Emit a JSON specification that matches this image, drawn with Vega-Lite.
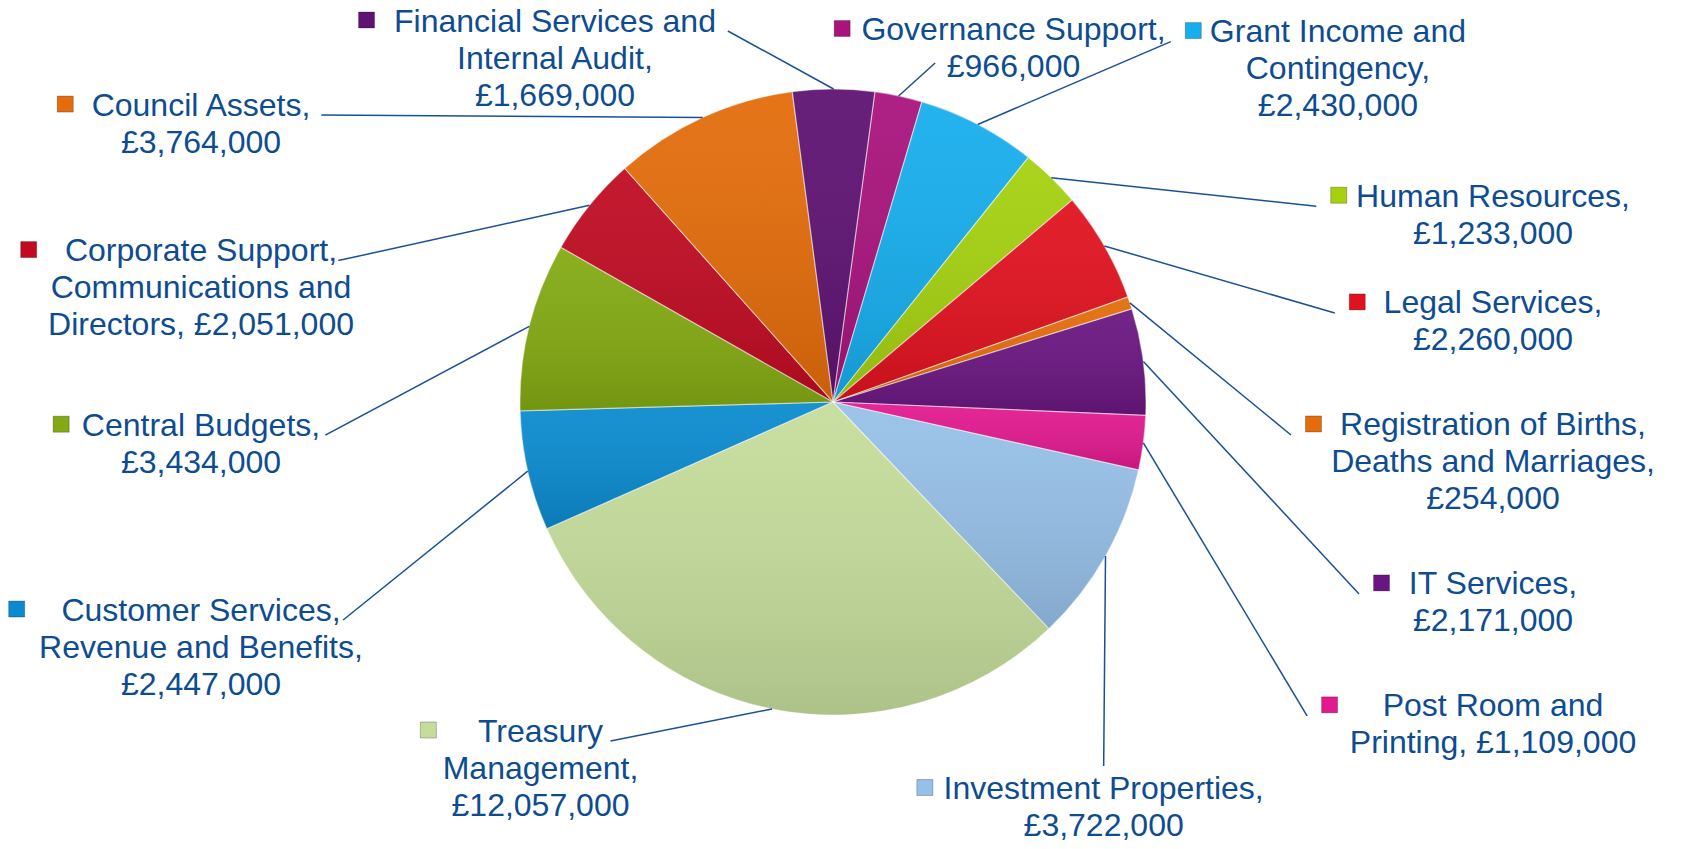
{
  "$schema": "https://vega.github.io/schema/vega-lite/v6.json",
  "autosize": "none",
  "width": 1666,
  "height": 804,
  "padding": {"left": 0, "top": 0, "right": 18, "bottom": 45},
  "background": "#ffffff",
  "config": {"view": {"stroke": null}},
  "data": {"values": [
    {"category": "Governance Support", "value": 966000, "label": "Governance Support,\n£966,000"},
    {"category": "Grant Income and Contingency", "value": 2430000, "label": "Grant Income and\nContingency,\n£2,430,000"},
    {"category": "Human Resources", "value": 1233000, "label": "Human Resources,\n£1,233,000"},
    {"category": "Legal Services", "value": 2260000, "label": "Legal Services,\n£2,260,000"},
    {"category": "Registration of Births, Deaths and Marriages", "value": 254000, "label": "Registration of Births,\nDeaths and Marriages,\n£254,000"},
    {"category": "IT Services", "value": 2171000, "label": "IT Services,\n£2,171,000"},
    {"category": "Post Room and Printing", "value": 1109000, "label": "Post Room and\nPrinting, £1,109,000"},
    {"category": "Investment Properties", "value": 3722000, "label": "Investment Properties,\n£3,722,000"},
    {"category": "Treasury Management", "value": 12057000, "label": "Treasury\nManagement,\n£12,057,000"},
    {"category": "Customer Services, Revenue and Benefits", "value": 2447000, "label": "Customer Services,\nRevenue and Benefits,\n£2,447,000"},
    {"category": "Central Budgets", "value": 3434000, "label": "Central Budgets,\n£3,434,000"},
    {"category": "Corporate Support, Communications and Directors", "value": 2051000, "label": "Corporate Support,\nCommunications and\nDirectors, £2,051,000"},
    {"category": "Council Assets", "value": 3764000, "label": "Council Assets,\n£3,764,000"},
    {"category": "Financial Services and Internal Audit", "value": 1669000, "label": "Financial Services and\nInternal Audit,\n£1,669,000"}
  ]},
  "transform": [
    {"stack": "value", "groupby": [], "as": ["s0", "s1"]}
  ],
  "layer": [
    {
      "mark": {"type": "arc", "outerRadius": 313, "stroke": "#ffffff", "strokeOpacity": 0.2, "strokeWidth": 1},
      "encoding": {
        "theta": {"field": "s0", "type": "quantitative", "scale": {"domain": [0, 39567000], "range": [0.1344, 6.4176], "zero": true, "nice": false}},
        "theta2": {"field": "s1"},
        "color": {
          "field": "category", "type": "nominal", "legend": null,
          "scale": {
            "domain": ["Governance Support", "Grant Income and Contingency", "Human Resources", "Legal Services", "Registration of Births, Deaths and Marriages", "IT Services", "Post Room and Printing", "Investment Properties", "Treasury Management", "Customer Services, Revenue and Benefits", "Central Budgets", "Corporate Support, Communications and Directors", "Council Assets", "Financial Services and Internal Audit"],
            "range": ["#A8137C", "#16AEEE", "#A5D10F", "#E1121F", "#E46C0A", "#6A1680", "#E3198F", "#96C0E8", "#C5DD9B", "#0A8BCF", "#83AA12", "#C00B22", "#E46C0A", "#5E1272"]
          }
        }
      }
    },
    {
      "mark": {"type": "arc", "outerRadius": 313, "stroke": "#ffffff", "strokeOpacity": 0.3, "strokeWidth": 1.2,
        "fill": {"gradient": "linear", "x1": 0, "y1": 0, "x2": 0, "y2": 1, "stops": [{"offset": 0, "color": "rgba(255,255,255,0.06)"}, {"offset": 1, "color": "rgba(0,0,0,0.12)"}]}},
      "encoding": {
        "theta": {"field": "s0", "type": "quantitative"},
        "theta2": {"field": "s1"}
      }
    },
    {
      "mark": {"type": "rule", "color": "#1A5096", "strokeWidth": 1.5},
      "encoding": {
        "x": {"value": {"expr": "width/2+313*sin((scale('theta',datum.s0)+scale('theta',datum.s1))/2)"}},
        "y": {"value": {"expr": "height/2-313*cos((scale('theta',datum.s0)+scale('theta',datum.s1))/2)"}},
        "x2": {"value": {"expr": "width/2+(((scale('theta',datum.s0)+scale('theta',datum.s1))*28.6479)<180?min(660,21*((scale('theta',datum.s0)+scale('theta',datum.s1))*28.6479)-73.5,2660-20*((scale('theta',datum.s0)+scale('theta',datum.s1))*28.6479)):-min(632,26*((scale('theta',datum.s0)+scale('theta',datum.s1))*28.6479)-4680,6760-18*((scale('theta',datum.s0)+scale('theta',datum.s1))*28.6479)))+(((scale('theta',datum.s0)+scale('theta',datum.s1))*28.6479)<180?(((scale('theta',datum.s0)+scale('theta',datum.s1))*28.6479)>105?0:(((scale('theta',datum.s0)+scale('theta',datum.s1))*28.6479)<20?-(32*(0.556*length((split(datum.label,'\\n')[1]||''))-0.3*length(replace((split(datum.label,'\\n')[1]||''),regexp('[^ilftjr ,.I]','g'),''))+0.15*length(replace((split(datum.label,'\\n')[1]||''),regexp('[^A-Z]','g'),''))))/2-12:-max((32*(0.556*length((split(datum.label,'\\n')[0]||''))-0.3*length(replace((split(datum.label,'\\n')[0]||''),regexp('[^ilftjr ,.I]','g'),''))+0.15*length(replace((split(datum.label,'\\n')[0]||''),regexp('[^A-Z]','g'),'')))),(32*(0.556*length((split(datum.label,'\\n')[1]||''))-0.3*length(replace((split(datum.label,'\\n')[1]||''),regexp('[^ilftjr ,.I]','g'),''))+0.15*length(replace((split(datum.label,'\\n')[1]||''),regexp('[^A-Z]','g'),'')))),(32*(0.556*length((split(datum.label,'\\n')[2]||''))-0.3*length(replace((split(datum.label,'\\n')[2]||''),regexp('[^ilftjr ,.I]','g'),''))+0.15*length(replace((split(datum.label,'\\n')[2]||''),regexp('[^A-Z]','g'),'')))))/2-44)):(32*(0.556*length((split(datum.label,'\\n')[0]||''))-0.3*length(replace((split(datum.label,'\\n')[0]||''),regexp('[^ilftjr ,.I]','g'),''))+0.15*length(replace((split(datum.label,'\\n')[0]||''),regexp('[^A-Z]','g'),''))))/2+6)"}},
        "y2": {"value": {"expr": "height/2+(((scale('theta',datum.s0)+scale('theta',datum.s1))*28.6479)<180?clamp(9.3*((scale('theta',datum.s0)+scale('theta',datum.s1))*28.6479)-590.55-50*exp(-pow((((scale('theta',datum.s0)+scale('theta',datum.s1))*28.6479)-60)/12,2))+25*exp(-pow((((scale('theta',datum.s0)+scale('theta',datum.s1))*28.6479)-85)/10,2)),-355,404):clamp(1800-6.2*((scale('theta',datum.s0)+scale('theta',datum.s1))*28.6479)+1.4*max(0,285-((scale('theta',datum.s0)+scale('theta',datum.s1))*28.6479)),-345,365))-18.5*length(split(datum.label,'\\n'))+5+(((scale('theta',datum.s0)+scale('theta',datum.s1))*28.6479)<180?(((scale('theta',datum.s0)+scale('theta',datum.s1))*28.6479)>105?-8:(((scale('theta',datum.s0)+scale('theta',datum.s1))*28.6479)<20?48:24.5)):24.5)"}}
      }
    },
    {
      "mark": {"type": "square", "size": 256, "opacity": 1, "stroke": "#000000", "strokeOpacity": 0.25, "strokeWidth": 1,
        "x": {"expr": "width/2+(((scale('theta',datum.s0)+scale('theta',datum.s1))*28.6479)<180?min(660,21*((scale('theta',datum.s0)+scale('theta',datum.s1))*28.6479)-73.5,2660-20*((scale('theta',datum.s0)+scale('theta',datum.s1))*28.6479)):-min(632,26*((scale('theta',datum.s0)+scale('theta',datum.s1))*28.6479)-4680,6760-18*((scale('theta',datum.s0)+scale('theta',datum.s1))*28.6479)))-max((32*(0.556*length((split(datum.label,'\\n')[0]||''))-0.3*length(replace((split(datum.label,'\\n')[0]||''),regexp('[^ilftjr ,.I]','g'),''))+0.15*length(replace((split(datum.label,'\\n')[0]||''),regexp('[^A-Z]','g'),'')))),(32*(0.556*length((split(datum.label,'\\n')[1]||''))-0.3*length(replace((split(datum.label,'\\n')[1]||''),regexp('[^ilftjr ,.I]','g'),''))+0.15*length(replace((split(datum.label,'\\n')[1]||''),regexp('[^A-Z]','g'),'')))),(32*(0.556*length((split(datum.label,'\\n')[2]||''))-0.3*length(replace((split(datum.label,'\\n')[2]||''),regexp('[^ilftjr ,.I]','g'),''))+0.15*length(replace((split(datum.label,'\\n')[2]||''),regexp('[^A-Z]','g'),'')))))/2-21.5"},
        "y": {"expr": "height/2+(((scale('theta',datum.s0)+scale('theta',datum.s1))*28.6479)<180?clamp(9.3*((scale('theta',datum.s0)+scale('theta',datum.s1))*28.6479)-590.55-50*exp(-pow((((scale('theta',datum.s0)+scale('theta',datum.s1))*28.6479)-60)/12,2))+25*exp(-pow((((scale('theta',datum.s0)+scale('theta',datum.s1))*28.6479)-85)/10,2)),-355,404):clamp(1800-6.2*((scale('theta',datum.s0)+scale('theta',datum.s1))*28.6479)+1.4*max(0,285-((scale('theta',datum.s0)+scale('theta',datum.s1))*28.6479)),-345,365))-18.5*length(split(datum.label,'\\n'))+18.5"}
      },
      "encoding": {
        "color": {"field": "category", "type": "nominal", "legend": null}
      }
    },
    {
      "mark": {"type": "text", "align": "center", "baseline": "top", "lineBreak": "\n", "lineHeight": 37, "font": "Liberation Sans", "fontSize": 32, "fill": "#0E4C92",
        "x": {"expr": "width/2+(((scale('theta',datum.s0)+scale('theta',datum.s1))*28.6479)<180?min(660,21*((scale('theta',datum.s0)+scale('theta',datum.s1))*28.6479)-73.5,2660-20*((scale('theta',datum.s0)+scale('theta',datum.s1))*28.6479)):-min(632,26*((scale('theta',datum.s0)+scale('theta',datum.s1))*28.6479)-4680,6760-18*((scale('theta',datum.s0)+scale('theta',datum.s1))*28.6479)))"},
        "y": {"expr": "height/2+(((scale('theta',datum.s0)+scale('theta',datum.s1))*28.6479)<180?clamp(9.3*((scale('theta',datum.s0)+scale('theta',datum.s1))*28.6479)-590.55-50*exp(-pow((((scale('theta',datum.s0)+scale('theta',datum.s1))*28.6479)-60)/12,2))+25*exp(-pow((((scale('theta',datum.s0)+scale('theta',datum.s1))*28.6479)-85)/10,2)),-355,404):clamp(1800-6.2*((scale('theta',datum.s0)+scale('theta',datum.s1))*28.6479)+1.4*max(0,285-((scale('theta',datum.s0)+scale('theta',datum.s1))*28.6479)),-345,365))-18.5*length(split(datum.label,'\\n'))+5"}
      },
      "encoding": {
        "text": {"field": "label", "type": "nominal"}
      }
    }
  ]
}
